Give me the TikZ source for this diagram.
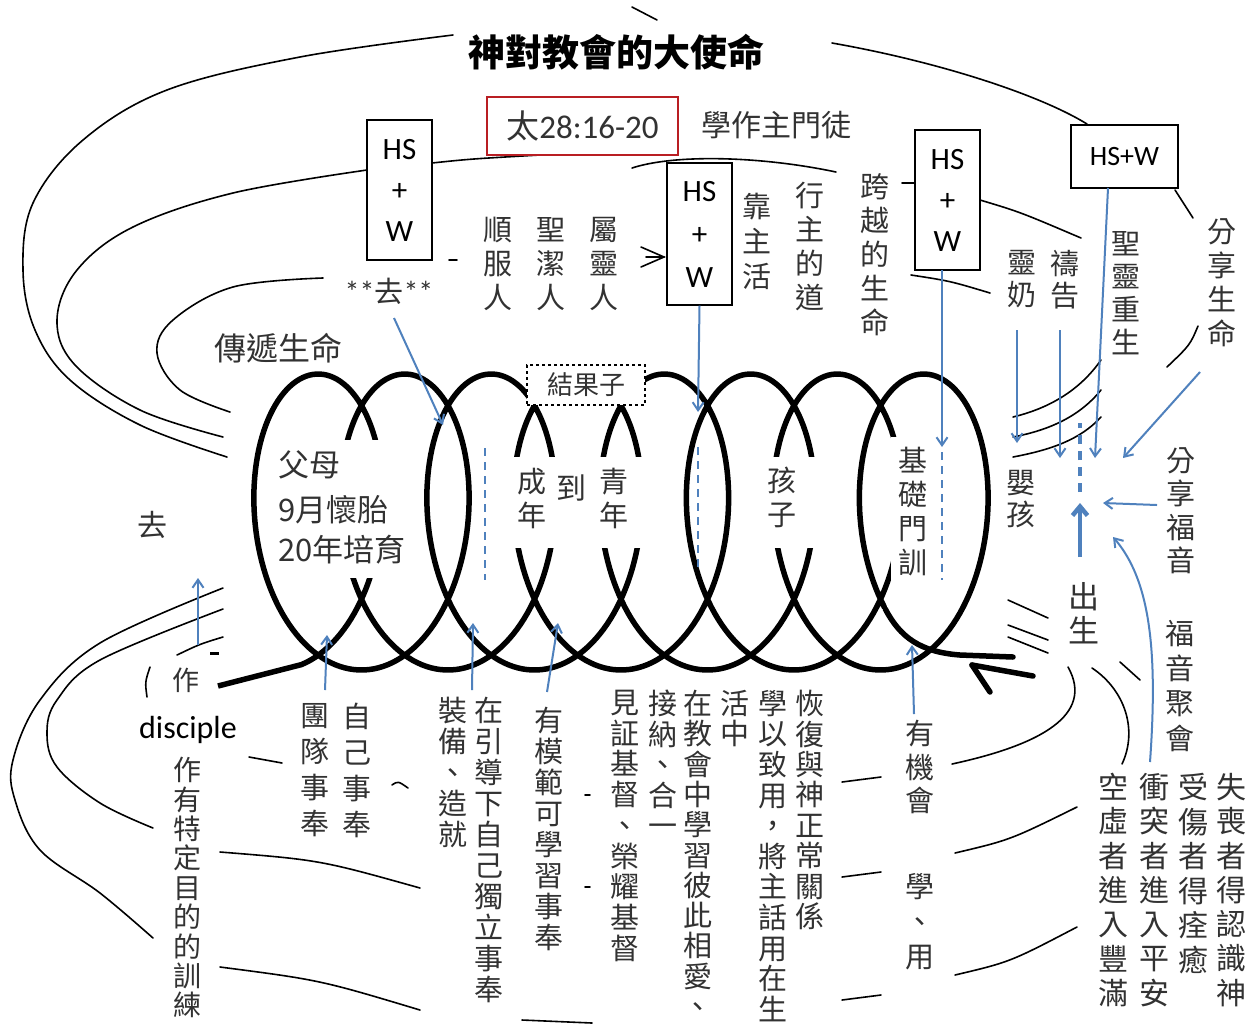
\documentclass[tikz,border=0pt]{standalone}
\usepackage{fontspec}
\setmainfont{Carlito}
\newfontfamily\cjk{Noto Sans CJK TC}
\usetikzlibrary{arrows.meta}
\definecolor{ablue}{RGB}{79,129,189}
\definecolor{txt}{RGB}{50,50,50}
\definecolor{rbox}{RGB}{185,30,35}
\makeatletter
\def\vt#1{\vt@first#1\relax}
\def\vt@first#1{#1\vt@rest}
\def\vt@rest#1{\ifx#1\relax\else\\#1\expandafter\vt@rest\fi}
\makeatother
\begin{document}
\begin{tikzpicture}[x=1pt,y=-1pt,
  ln/.style={line width=1.6pt, line cap=round},
  coil/.style={line width=5.5pt, line cap=round, line join=round},
  barrow/.style={draw=ablue, line width=2pt, -{Straight Barb[length=8pt,width=11pt]}},
  bdash/.style={draw=ablue, line width=2.6pt, dash pattern=on 8pt off 6pt},
  vcol/.style={align=center, text=txt, inner sep=3pt, fill=white, anchor=north, font=\cjk\fontsize{29}{#1}\selectfont},
  vcol/.default=34,
  vbig/.style={align=center, text=txt, inner sep=2pt, fill=white, anchor=north, font=\cjk\fontsize{30}{#1}\selectfont},
  hlab/.style={text=txt, inner sep=2pt, fill=white, font=\cjk\fontsize{#1}{#1}\selectfont},
  hsbox/.style={draw, line width=1.3pt, fill=white, align=center, inner sep=0pt, font=\fontsize{31}{#1}\selectfont},
]
\fill[white] (0,0) rectangle (1249,1034);
\useasboundingbox (0,0) rectangle (1249,1034);

% ---------- thin black arcs (top) ----------
\draw[ln] plot[smooth, tension=0.6] coordinates {(453,35) (300,57) (167,90) (83,140) (33,203) (23,270) (35,330) (70,380) (140,425) (227,457)};
\draw[ln] plot[smooth, tension=0.6] coordinates {(367,170) (233,193) (133,227) (77,270) (57,320) (75,365) (140,410) (223,437)};
\draw[ln] plot[smooth, tension=0.6] coordinates {(323,278) (233,287) (173,320) (157,353) (180,390) (230,412)};
\draw[ln] (432,163) .. controls (470,159) .. (540,155);
\draw[ln] (632,168) .. controls (675,154) and (760,156) .. (836,172);
\draw[ln] (902,183) -- (915,183);
\draw[ln] (980,200) .. controls (1020,212) .. (1081,238);
\draw[ln] (911,275) .. controls (950,281) .. (990,293);
\draw[ln] (449,260) -- (457,260);
\draw[ln] (641,247) -- (664,257) -- (641,267);
\draw[ln] (646,257) -- (664,257);
\draw[ln] (832,43) .. controls (940,62) and (1040,95) .. (1087,124);
\draw[ln] (1175,190) -- (1193,218);
\draw[ln] (1198,326) .. controls (1190,345) .. (1167,367);
\draw[ln] (1101,360) .. controls (1080,390) and (1050,408) .. (1013,417);
\draw[ln] (1101,390) .. controls (1080,416) and (1050,430) .. (1013,437);
\draw[ln] (1101,417) .. controls (1080,440) and (1050,450) .. (1013,457);
\draw[ln] (632,7) -- (657,20);

% ---------- thin black arcs (bottom) ----------
\draw[ln] plot[smooth, tension=0.6] coordinates {(223,588) (100,643) (40,700) (13,760) (15,800) (40,850) (100,893) (153,938)};
\draw[ln] plot[smooth, tension=0.6] coordinates {(223,609) (100,660) (57,700) (47,733) (57,767) (100,803) (153,828)};
\draw[ln] (223,637) .. controls (200,644) .. (177,655);
\draw[ln] (150,667) .. controls (145,682) .. (147,697);
\draw[ln] (249,757) -- (282,763);
\draw[ln] (392,785) .. controls (398,781) .. (408,788);
\draw[ln] (220,852) .. controls (320,860) .. (420,888);
\draw[ln] (220,967) .. controls (320,980) .. (420,1010);
\draw[ln] (585,795) -- (590,795);
\draw[ln] (585,887) -- (590,887);
\draw[ln] (522,1020) -- (592,1023);
\draw[ln] (842,782) -- (881,777);
\draw[ln] (842,877) -- (881,872);
\draw[ln] (842,1000) -- (881,995);
\draw[ln] (952,764) .. controls (1040,745) and (1095,715) .. (1068,667);
\draw[ln] (1092,668) .. controls (1125,690) and (1138,730) .. (1122,764);
\draw[ln] (1120,662) -- (1140,680);
\draw[ln] (955,853) .. controls (1010,840) .. (1077,807);
\draw[ln] (955,975) .. controls (1010,962) .. (1077,927);
\draw[ln] (1008,600) -- (1048,618);
\draw[ln] (1008,625) -- (1048,640);
\draw[ln] (1008,637) -- (1048,653);

% ---------- the coil ----------
\draw[coil] plot[variable=\t, domain=-1.3:47.75, samples=1000] ({296.6+13.767*\t+84.9*cos(\t r)},{522-148*sin(\t r)});
\draw[coil, line cap=butt] (218,686) -- (301.4,664.6);
\draw[line width=3pt] (210,653) -- (219,653);
\draw[coil] (885.3,609) .. controls (900,637) and (920,652) .. (960,655) -- (1013,657);
\draw[coil] (972,665) -- (1033,676);
\draw[coil] (972,665) -- (990,692);

% gaps of the coil behind its labels
\fill[white] (272,440) rectangle (418,578);
\fill[white] (506,457) rectangle (560,548);
\fill[white] (593,457) rectangle (648,548);
\fill[white] (766,457) rectangle (820,548);
\fill[white] (891,437) rectangle (934,598);

% ---------- boxes ----------
\node[font=\cjk\bfseries\fontsize{37}{37}\selectfont, inner sep=2pt, fill=white] (title) at (616,52) {神對教會的大使命};
\node[draw=rbox, line width=1.6pt, fill=white, inner sep=0pt, minimum width=191pt, minimum height=58pt, text=txt, font=\fontsize{33}{33}\selectfont] (ref) at (582.5,126) {{\cjk 太}28:16-20};
\node[hlab=30] (xuezuo) at (776,125) {學作主門徒};
\node[hsbox=41, minimum width=65pt, minimum height=140pt] (b1) at (399.5,190) {HS\\+\\W};
\node[hsbox=43, minimum width=65pt, minimum height=142pt] (b2) at (699.5,234) {HS\\+\\W};
\node[hsbox=41, minimum width=65pt, minimum height=140pt] (b3) at (947.5,200) {HS\\+\\W};
\node[draw, line width=1.3pt, fill=white, inner sep=0pt, minimum width=107pt, minimum height=63pt, font=\fontsize{28}{28}\selectfont] (b4) at (1124.5,156.5) {HS+W};
\node[draw, dashed, line width=1.3pt, fill=white, minimum width=118pt, minimum height=40pt, inner sep=0pt, text=txt, font=\cjk\fontsize{26}{26}\selectfont] (fruit) at (586,385) {結果子};

% ---------- top labels ----------
\node[vcol=34] (shunfu) at (498,214) {\vt{順服人}};
\node[vcol=34] (shengjie) at (551,214) {\vt{聖潔人}};
\node[vcol=34] (shuling) at (604,214) {\vt{屬靈人}};
\node[vcol=35] (kaozhu) at (757,190) {\vt{靠主活}};
\node[vcol=34] (xingzhu) at (810,179) {\vt{行主的道}};
\node[vcol=34] (kuayue) at (875,170) {\vt{跨越的生命}};
\node[vcol=32] (lingnai) at (1022,247) {\vt{靈奶}};
\node[vcol=32] (daogao) at (1065,247) {\vt{禱告}};
\node[vcol=33] (chongsheng) at (1126,228) {\vt{聖靈重生}};
\node[vcol=34] (fxsm) at (1222,215) {\vt{分享生命}};
\node[hlab=32] (chuandi) at (278,348) {傳遞生命};
\node[text=txt, inner sep=2pt, fill=white, font=\fontsize{30}{30}\selectfont] (quq) at (389,291) {**{\cjk\fontsize{29}{29}\selectfont 去}**};

% ---------- labels in the coil ----------
\node[hlab=31, anchor=west] (fumu) at (276,465) {父母};
\node[hlab=31, anchor=west] (huaitai) at (276,510) {9月懷胎};
\node[hlab=31, anchor=west] (peiyu) at (276,550) {20年培育};
\node[vcol=34] (chengnian) at (532,465) {\vt{成年}};
\node[hlab=30] (dao) at (571,488) {到};
\node[vcol=34] (qingnian) at (614,465) {\vt{青年}};
\node[vcol=34] (haizi) at (782,464) {\vt{孩子}};
\node[vcol=34] (jichu) at (913,444) {\vt{基礎門訓}};
\node[vcol=32] (yinghai) at (1021,467) {\vt{嬰孩}};
\node[vbig=34, font=\cjk\fontsize{31}{34}\selectfont] (chusheng) at (1084,580) {\vt{出生}};
\node[vcol=33.5] (fxfy) at (1181,444) {\vt{分享福音}};
\node[vcol=35] (fyjh) at (1180,617) {\vt{福音聚會}};
\node[hlab=30] (qu) at (152,525) {去};
\node[hlab=27] (zuo) at (186,680) {作};
\node[font=\fontsize{32}{32}\selectfont, inner sep=1pt] (disciple) at (188,730) {disciple};

% ---------- bottom labels ----------
\node[vcol=29.4, font=\cjk\fontsize{28}{29.4}\selectfont] (xunlian) at (187,754) {\vt{作有特定目的的訓練}};
\node[vcol=36] (tuandui) at (315,700) {\vt{團隊事奉}};
\node[vcol=36] (ziji) at (357,700) {\vt{自己事奉}};
\node[vcol=31] (zhuangbei) at (453,694) {\vt{裝備、造就}};
\node[vcol=31] (yindao) at (489,694) {\vt{在引導下自己獨立事奉}};
\node[vcol=31] (mofan) at (549,704) {\vt{有模範可學習事奉}};
\node[vcol=30.7] (jianzheng) at (625,687) {\vt{見証基督、榮耀基督}};
\node[vcol=30.5] (jiena) at (663,687) {\vt{接納、合一}};
\node[vcol=30.3] (jiaohui) at (698,687) {\vt{在教會中學習彼此相愛、}};
\node[vcol=30.5] (huozhong) at (735,687) {\vt{活中}};
\node[vcol=30.6] (xueyi) at (773,687) {\vt{學以致用，將主話用在生}};
\node[vcol=30.4] (huifu) at (810,687) {\vt{恢復與神正常關係}};
\node[vcol=33.5] (youjihui) at (920,717) {\vt{有機會}};
\node[vcol=35] (xueyong) at (920,870) {\vt{學、用}};
\node[vbig=34.3] (kongxu) at (1113,771) {\vt{空虛者進入豐滿}};
\node[vbig=34.3] (chongtu) at (1154,771) {\vt{衝突者進入平安}};
\node[vbig=34.5] (shoushang) at (1193,771) {\vt{受傷者得痊癒}};
\node[vbig=34.3] (shisang) at (1231,771) {\vt{失喪者得認識神}};

% ---------- blue arrows ----------
\coordinate (a1s) at (394,318); \coordinate (a1e) at (443,425);
\coordinate (a2e) at (698,412);
\coordinate (a3s) at (942,270); \coordinate (a3e) at (942,447);
\coordinate (a4s) at (1108,188); \coordinate (a4e) at (1095,458);
\coordinate (a5s) at (1017,330); \coordinate (a5e) at (1017,443);
\coordinate (a6s) at (1060,330); \coordinate (a6e) at (1060,458);
\coordinate (a7s) at (1200,372); \coordinate (a7e) at (1123,458);
\coordinate (a8s) at (1157,505); \coordinate (a8e) at (1103,503);
\coordinate (a9s) at (1150,762); \coordinate (a9e) at (1113,537);
\coordinate (a10s) at (1080,557); \coordinate (a10e) at (1080,503);
\coordinate (a11s) at (198,645); \coordinate (a11e) at (198,578);
\coordinate (a12s) at (325,690); \coordinate (a12e) at (327,635);
\coordinate (a13s) at (472,690); \coordinate (a13e) at (473,623);
\coordinate (a14s) at (547,692); \coordinate (a14e) at (558,623);
\coordinate (a15s) at (914,714); \coordinate (a15e) at (912,645);
\draw[barrow] (a1s) -- (a1e);
\draw[barrow] (b2.south) -- (a2e);
\draw[barrow] (a3s) -- (a3e);
\draw[barrow] (a4s) -- (a4e);
\draw[barrow] (a5s) -- (a5e);
\draw[barrow] (a6s) -- (a6e);
\draw[barrow] (a7s) -- (a7e);
\draw[barrow] (a8s) -- (a8e);
\draw[barrow] (a9s) .. controls (1158,650) and (1150,580) .. (a9e);
\draw[draw=ablue, line width=4.5pt, -{Straight Barb[length=9pt,width=15pt]}] (a10s) -- (a10e);
\draw[ablue, line width=4.5pt, dash pattern=on 9pt off 7pt] (1080,492) -- (1080,423);
\draw[barrow] (a11s) -- (a11e);
\draw[barrow] (a12s) -- (a12e);
\draw[barrow] (a13s) -- (a13e);
\draw[barrow] (a14s) -- (a14e);
\draw[barrow] (a15s) -- (a15e);
\draw[bdash] (485,448) -- (485,580);
\draw[bdash] (698,447) -- (698,570);
\draw[bdash] (942,452) -- (942,580);
\end{tikzpicture}
\end{document}
